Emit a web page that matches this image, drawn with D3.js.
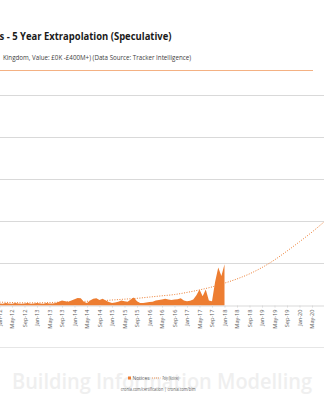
<!DOCTYPE html>
<html>
<head>
<meta charset="utf-8">
<script src="https://cdn.jsdelivr.net/npm/d3@7"></script>
<style>
  html, body { margin: 0; padding: 0; background: #fff; }
  svg { display: block; }
  text { font-family: "Open Sans", "Noto Sans", sans-serif; }
</style>
</head>
<body>
<svg id="chart" width="324" height="400"></svg>
<script>
// ---- data ----
const titleText = "s - 5 Year Extrapolation (Speculative)";
const subtitleText = "Kingdom, Value: £0K -£400M+) (Data Source: Tracker Intelligence)";
const footerText = "cronia.com/certification | cronia.com/bim";
const watermarkText = "Building Information Modelling";
const legendLabels = ["Notices", "Poly. (Notices)"];

// monthly notices, Jan-12 (index 0) .. Jan-18 (index 72)
const notices = [
  2.5, 2, 3, 2.5, 2, 3, 2.5, 2, 2.5, 3, 2, 2.5,
  3, 2.5, 2, 3, 2.5, 2.5, 3, 4.5, 6, 5, 4.5, 6,
  7.5, 9, 8.5, 4.5, 3, 6, 8, 8.5, 6.5, 8, 6, 4,
  3, 3.5, 4.5, 6, 5, 4.5, 7, 9.5, 5, 3, 3, 3.5,
  4, 4.5, 6, 6.5, 7, 8, 7, 6.5, 7, 7.5, 8.5, 6,
  5, 5.5, 7, 12, 19, 11, 19, 6, 5, 28, 45, 35,
  49
];
// polynomial trend read at every 4 months, Jan-12 .. Sep-20
const polyMonths = [0, 4, 8, 12, 16, 20, 24, 28, 32, 36, 40, 44, 48, 52, 56, 60, 64, 68, 72, 76, 80, 84, 88, 92, 96, 100, 104];
const polyValues = [4, 3.5, 3.2, 3.2, 3.5, 4, 4.5, 5, 5.5, 6.5, 7.5, 8.5, 10, 11.5, 13, 15.5, 18.5, 22, 26.5, 31.5, 37.5, 45, 54, 64.5, 75.5, 87, 99.5];
// x tick labels every 4 months (visible part)
const tickLabels = ["Jan-12","May-12","Sep-12","Jan-13","May-13","Sep-13","Jan-14","May-14","Sep-14",
  "Jan-15","May-15","Sep-15","Jan-16","May-16","Sep-16","Jan-17","May-17","Sep-17",
  "Jan-18","May-18","Sep-18","Jan-19","May-19","Sep-19","Jan-20","May-20"];
const yTicks = [0, 50, 100, 150, 200, 250];

// ---- drawing ----
const svg = d3.select("#chart");
const W = 324;
const orange = "#ED7D31";

const x = d3.scaleLinear().domain([0, 104]).range([-0.5, 324.5]);
const y = d3.scaleLinear().domain([0, 250]).range([305.5, 94.5]);

svg.append("rect").attr("width", W).attr("height", 400).attr("fill", "#fff");

// watermark
svg.append("text")
  .attr("x", 12).attr("y", 389)
  .attr("textLength", 300).attr("lengthAdjust", "spacingAndGlyphs")
  .attr("font-size", 22).attr("font-weight", 600)
  .attr("fill", "#efefef")
  .text(watermarkText);

// title
svg.append("text")
  .attr("x", -0.5).attr("y", 39.5)
  .attr("textLength", 172).attr("lengthAdjust", "spacingAndGlyphs")
  .attr("font-size", 11).attr("font-weight", 700)
  .attr("fill", "#1a1a1a")
  .text(titleText);

svg.append("text")
  .attr("x", 3).attr("y", 59.5)
  .attr("textLength", 188).attr("lengthAdjust", "spacingAndGlyphs")
  .attr("font-size", 6.5)
  .attr("fill", "#404040")
  .text(subtitleText);

svg.append("line")
  .attr("x1", 0).attr("x2", 313).attr("y1", 70.5).attr("y2", 70.5)
  .attr("stroke", "#F4B183").attr("stroke-width", 1);

// gridlines
svg.append("g").selectAll("line")
  .data(yTicks.slice(1))
  .join("line")
  .attr("x1", 0).attr("x2", W)
  .attr("y1", d => Math.round(y(d)) + 0.5).attr("y2", d => Math.round(y(d)) + 0.5)
  .attr("stroke", "#d9d9d9").attr("stroke-width", 1);

// area
const area = d3.area()
  .x((d, i) => x(i))
  .y0(y(0))
  .y1(d => y(d));
svg.append("path")
  .datum(notices)
  .attr("d", area)
  .attr("fill", orange);

// x axis
const xAxis = d3.axisBottom(x)
  .tickValues(tickLabels.map((d, i) => i * 4))
  .tickFormat((d, i) => tickLabels[i])
  .tickSize(2);
const gx = svg.append("g")
  .attr("transform", `translate(0,${y(0)})`)
  .call(xAxis);
gx.select(".domain").attr("stroke", "#d9d9d9").attr("d", `M0,0.5H${W}`);
gx.selectAll(".tick line").attr("stroke", "#d9d9d9");
gx.selectAll(".tick text")
  .attr("font-family", "'Open Sans', 'Noto Sans', sans-serif")
  .attr("font-size", 5.6)
  .attr("fill", "#595959")
  .attr("transform", "rotate(-90)")
  .attr("text-anchor", "end")
  .attr("x", -4)
  .attr("y", 0)
  .attr("dy", "0.35em");

// poly trend
const polyLine = d3.line()
  .x((d, i) => x(polyMonths[i]))
  .y(d => y(d))
  .curve(d3.curveMonotoneX);
svg.append("path")
  .datum(polyValues)
  .attr("d", polyLine)
  .attr("fill", "none")
  .attr("stroke", orange)
  .attr("stroke-width", 1)
  .attr("stroke-dasharray", "1,1.5");

// bottom border
svg.append("line")
  .attr("x1", 0).attr("x2", W).attr("y1", 347.5).attr("y2", 347.5)
  .attr("stroke", "#e6e6e6").attr("stroke-width", 1);

// legend
const lg = svg.append("g");
lg.append("rect").attr("x", 128).attr("y", 376.5).attr("width", 3).attr("height", 3).attr("fill", orange);
lg.append("text").attr("x", 132.5).attr("y", 380).attr("font-size", 5).attr("fill", "#595959")
  .attr("textLength", 17).attr("lengthAdjust", "spacingAndGlyphs").text(legendLabels[0]);
lg.append("line").attr("x1", 152).attr("x2", 160.5).attr("y1", 378).attr("y2", 378)
  .attr("stroke", orange).attr("stroke-width", 0.8).attr("stroke-dasharray", "1,1");
lg.append("text").attr("x", 162.5).attr("y", 380).attr("font-size", 5).attr("fill", "#595959")
  .attr("textLength", 16.5).attr("lengthAdjust", "spacingAndGlyphs").text(legendLabels[1]);

// footer
svg.append("text")
  .attr("x", 120.7).attr("y", 390.5)
  .attr("textLength", 75).attr("lengthAdjust", "spacingAndGlyphs")
  .attr("font-size", 4.6).attr("fill", "#595959")
  .text(footerText);
</script>
</body>
</html>
